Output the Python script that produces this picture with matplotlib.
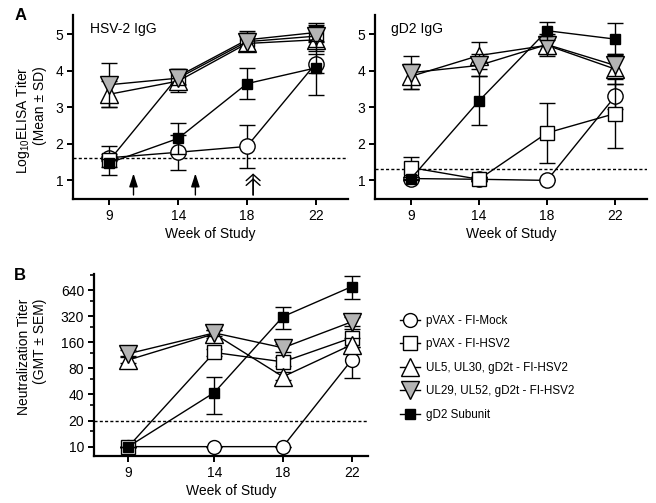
import matplotlib
matplotlib.use("Agg")
import matplotlib.pyplot as plt
import numpy as np
from matplotlib.ticker import FixedLocator, NullFormatter

plt.rcParams['font.family'] = ['Liberation Sans', 'DejaVu Sans']
plt.rcParams['mathtext.fontset'] = 'custom'
plt.rcParams['mathtext.rm'] = 'Liberation Sans'
plt.rcParams['mathtext.default'] = 'regular'

# ---------------- data ----------------
weeks = [9, 14, 18, 22]
groups = ['pVAX - FI-Mock', 'pVAX - FI-HSV2', 'UL5, UL30, gD2t - FI-HSV2',
          'UL29, UL52, gD2t - FI-HSV2', 'gD2 Subunit']

# Panel A left: HSV-2 IgG (log10 ELISA titer, mean +- SD)
hsv2_mock = [1.62, 1.77, 1.93, 4.20]
hsv2_mock_sd = [0.10, 0.48, 0.60, 0.25]
hsv2_pvax = [1.55, 3.85, 4.85, 5.05]
hsv2_pvax_sd = [0.40, 0.20, 0.25, 0.25]
hsv2_ul5 = [3.36, 3.72, 4.75, 4.85]
hsv2_ul5_sd = [0.35, 0.30, 0.20, 0.30]
hsv2_ul29 = [3.62, 3.80, 4.80, 4.95]
hsv2_ul29_sd = [0.60, 0.20, 0.25, 0.30]
hsv2_gd2 = [1.48, 2.15, 3.65, 4.08]
hsv2_gd2_sd = [0.10, 0.42, 0.42, 0.74]
hsv2_cutoff = 1.6

# Panel A right: gD2 IgG
gd2igg_mock = [1.05, 1.03, 1.00, 3.30]
gd2igg_mock_sd = [0.05, 0.05, 0.00, 0.35]
gd2igg_pvax = [1.35, 1.03, 2.30, 2.83]
gd2igg_pvax_sd = [0.30, 0.05, 0.82, 0.95]
gd2igg_ul5 = [3.85, 4.42, 4.70, 4.05]
gd2igg_ul5_sd = [0.35, 0.38, 0.25, 0.40]
gd2igg_ul29 = [3.95, 4.15, 4.72, 4.15]
gd2igg_ul29_sd = [0.45, 0.30, 0.30, 0.30]
gd2igg_gd2 = [1.05, 3.18, 5.10, 4.87]
gd2igg_gd2_sd = [0.05, 0.67, 0.25, 0.43]
gd2igg_cutoff = 1.3

# Panel B: neutralization titer (GMT, lower / upper SEM bounds)
nt_mock = [10, 10, 10, 100]
nt_mock_lo = [10, 10, 10, 62]
nt_mock_hi = [10, 10, 10, 140]
nt_pvax = [10, 122, 95, 180]
nt_pvax_lo = [10, 110, 85, 140]
nt_pvax_hi = [10, 135, 108, 230]
nt_ul5 = [100, 200, 64, 150]
nt_ul5_lo = [92, 180, 58, 125]
nt_ul5_hi = [110, 222, 72, 180]
nt_ul29 = [118, 205, 138, 275]
nt_ul29_lo = [108, 190, 125, 245]
nt_ul29_hi = [130, 222, 152, 310]
nt_gd2 = [10, 42, 316, 700]
nt_gd2_lo = [10, 24, 230, 500]
nt_gd2_hi = [10, 63, 410, 930]
nt_cutoff = 20
nt_ticks = [10, 20, 40, 80, 160, 320, 640]
nt_minor = [15, 30, 60, 120, 240, 480, 960]

arrow_pos = [0.35, 1.25, 2.09]

# ---------------- styles ----------------
GRAY = '#b4b4b4'
stylesA = [
    dict(marker='o', mfc='white', ms=11),
    dict(marker='s', mfc='white', ms=10),
    dict(marker='^', mfc='white', ms=12.5),
    dict(marker='v', mfc=GRAY, ms=12.5),
    dict(marker='s', mfc='black', ms=7.5),
]
stylesB = [
    dict(marker='o', mfc='white', ms=10),
    dict(marker='s', mfc='white', ms=10),
    dict(marker='^', mfc='white', ms=13.5),
    dict(marker='v', mfc=GRAY, ms=13.5),
    dict(marker='s', mfc='black', ms=7.5),
]

fig = plt.figure(figsize=(6.56, 5.03), dpi=100)

def style_axes(ax):
    for s in ['top', 'right']:
        ax.spines[s].set_visible(False)
    for s in ['left', 'bottom']:
        ax.spines[s].set_linewidth(1.6)
    ax.tick_params(direction='out', length=4, width=1.4, labelsize=10, pad=3)
    ax.tick_params(which='minor', direction='out', length=3, width=1.2)

def panelA(ax, series, sds, cutoff, title):
    x = np.arange(len(weeks))
    for i, (y, sd) in enumerate(zip(series, sds)):
        st = stylesA[i]
        ax.errorbar(x, y, yerr=sd, color='black', lw=1.0, elinewidth=1.0,
                    capsize=5.5, capthick=1.0, marker=st['marker'],
                    mfc=st['mfc'], mec='black', mew=1.0, ms=st['ms'],
                    zorder=3 + i)
    ax.axhline(cutoff, color='black', lw=1.0, ls=(0, (2.2, 1.6)), zorder=2)
    ax.set_xlim(-0.53, 3.47)
    ax.set_ylim(0.49, 5.53)
    ax.set_xticks(x)
    ax.set_xticklabels([str(w) for w in weeks])
    ax.set_yticks([1, 2, 3, 4, 5])
    ax.set_xlabel('Week of Study', fontsize=10, labelpad=3)
    ax.text(0.06, 0.96, title, transform=ax.transAxes, fontsize=10,
            ha='left', va='top')
    style_axes(ax)

axA1 = fig.add_axes([73/656, 1-199/503, (348-73)/656, 184/503])
panelA(axA1, [hsv2_mock, hsv2_pvax, hsv2_ul5, hsv2_ul29, hsv2_gd2],
       [hsv2_mock_sd, hsv2_pvax_sd, hsv2_ul5_sd, hsv2_ul29_sd, hsv2_gd2_sd],
       hsv2_cutoff, 'HSV-2 IgG')
axA1.set_ylabel('Log$_{10}$ELISA Titer\n(Mean ± SD)', fontsize=10,
                linespacing=1.05, multialignment='right')
axA1.yaxis.set_label_coords((47-73)/275, (199-120)/184)

# immunization arrows
for k, xp in enumerate(arrow_pos):
    if k < 2:
        axA1.annotate('', xy=(xp, 1.19), xytext=(xp, 0.60),
                      arrowprops=dict(arrowstyle='-|>,head_length=0.8,head_width=0.26',
                                      color='black', lw=1.0, mutation_scale=10,
                                      shrinkA=0, shrinkB=0))
    else:
        for top in (1.19, 1.06):
            axA1.annotate('', xy=(xp, top), xytext=(xp, 0.60),
                          arrowprops=dict(arrowstyle='->,head_length=0.45,head_width=0.5',
                                          color='black', lw=1.0,
                                          mutation_scale=10,
                                          shrinkA=0, shrinkB=0))

axA2 = fig.add_axes([375/656, 1-199/503, (647-375)/656, 184/503])
panelA(axA2, [gd2igg_mock, gd2igg_pvax, gd2igg_ul5, gd2igg_ul29, gd2igg_gd2],
       [gd2igg_mock_sd, gd2igg_pvax_sd, gd2igg_ul5_sd, gd2igg_ul29_sd,
        gd2igg_gd2_sd],
       gd2igg_cutoff, 'gD2 IgG')

# Panel B
axB = fig.add_axes([94/656, 1-456/503, (368-94)/656, 182/503])
seriesB = [nt_mock, nt_pvax, nt_ul5, nt_ul29, nt_gd2]
losB = [nt_mock_lo, nt_pvax_lo, nt_ul5_lo, nt_ul29_lo, nt_gd2_lo]
hisB = [nt_mock_hi, nt_pvax_hi, nt_ul5_hi, nt_ul29_hi, nt_gd2_hi]
handles = []
for i in range(5):
    y = np.array(seriesB[i], float)
    err = np.vstack([y - np.array(losB[i]), np.array(hisB[i]) - y])
    st = stylesB[i]
    h = axB.errorbar(weeks, y, yerr=err, color='black', lw=1.0,
                     elinewidth=1.0, capsize=5.5, capthick=1.0,
                     marker=st['marker'], mfc=st['mfc'], mec='black',
                     mew=1.0, ms=st['ms'], zorder=3 + i, label=groups[i])
    handles.append(h[0])
axB.axhline(nt_cutoff, color='black', lw=1.0, ls=(0, (2.2, 1.6)), zorder=2)
axB.set_yscale('log', base=2)
axB.set_xlim(7.0, 22.95)
axB.set_ylim(7.8, 980)
axB.set_xticks(weeks)
axB.set_xticklabels([str(w) for w in weeks])
axB.yaxis.set_major_locator(FixedLocator(nt_ticks))
axB.set_yticklabels([str(t) for t in nt_ticks])
axB.yaxis.set_minor_locator(FixedLocator(nt_minor))
axB.yaxis.set_minor_formatter(NullFormatter())
axB.set_xlabel('Week of Study', fontsize=10, labelpad=3)
axB.set_ylabel('Neutralization Titer\n(GMT ± SEM)', fontsize=10,
               linespacing=1.15, multialignment='right')
axB.yaxis.set_label_coords((47-94)/274, (456-357)/182)
style_axes(axB)

leg = fig.legend(handles=handles, labels=groups, loc='upper left',
                 bbox_to_anchor=(400/656, 1-315/503), frameon=False,
                 fontsize=8.4, handlelength=1.7, handletextpad=0.55,
                 labelspacing=0.98, borderpad=0, borderaxespad=0)

fig.text(15/656, 1-15/503, 'A', fontsize=12, fontweight='bold',
         ha='left', va='center')
fig.text(14/656, 1-275/503, 'B', fontsize=12, fontweight='bold',
         ha='left', va='center')

fig.savefig('out.png', dpi=100)
